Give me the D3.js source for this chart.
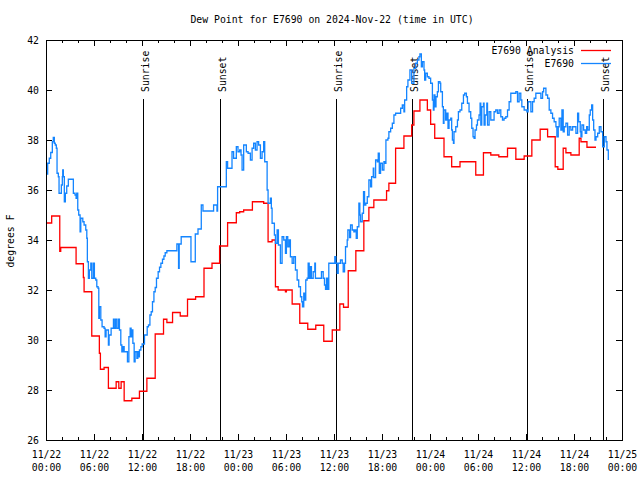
<!DOCTYPE html>
<html><head><meta charset="utf-8">
<script src="https://cdn.jsdelivr.net/npm/d3@7"></script>
<style>
body{margin:0;background:#fff}
text{font-family:"DejaVu Sans Mono",monospace;font-size:9.8px;fill:#000}
</style>
</head><body><svg id="c" width="640" height="480"></svg>
<script>
const chartTitle = "Dew Point for E7690 on 2024-Nov-22 (time in UTC)";
const yAxisTitle = "degrees F";
const seriesNames = ["E7690 Analysis", "E7690"];
const startTime = Date.UTC(2024, 10, 22, 0, 0);
const yTickValues = [26, 28, 30, 32, 34, 36, 38, 40, 42];
const xMajorStepHours = 6;
const xMinorStepHours = 2;

// analysis series (hours after start, deg F)
const analysisHours = [0.04,0.71,1.72,1.84,3.76,4.67,4.76,5.72,6.67,6.80,7.26,7.80,8.77,9.10,9.39,9.77,10.73,11.68,12.61,13.65,14.69,15.11,15.82,16.78,17.69,18.70,19.75,20.75,21.70,22.70,23.79,24.21,24.71,25.80,27.21,27.76,28.26,28.68,29.02,29.93,30.05,30.77,31.72,32.72,33.72,34.72,35.78,36.73,37.19,37.78,38.73,39.73,40.36,40.98,42.57,42.86,43.70,44.74,45.71,45.99,46.74,47.67,48.08,48.59,49.75,50.71,51.75,53.72,54.68,55.60,56.60,57.69,58.73,59.77,60.73,61.77,62.70,63.65,63.98,64.65,64.99,65.61,66.65,66.87,67.62,68.75];
const analysisValues = [34.68,34.96,33.55,33.70,33.05,32.50,31.93,30.16,29.47,28.83,28.90,28.07,28.33,28.07,28.33,27.57,27.67,27.95,28.47,30.24,30.83,30.70,31.10,30.96,31.63,31.73,32.87,33.07,33.76,34.69,35.09,35.13,35.20,35.53,35.47,33.93,34.00,32.13,32.00,31.93,32.00,31.44,30.67,30.43,30.59,29.95,30.40,31.44,31.31,32.77,33.57,34.77,35.30,35.60,35.97,36.27,37.67,38.16,38.60,39.16,39.60,39.20,38.63,38.07,37.33,36.93,37.13,36.60,37.49,37.40,37.33,37.67,37.23,37.36,38.00,38.43,38.13,36.93,36.83,37.67,37.49,37.40,38.07,37.93,37.71,37.71];

// observed series (hours after start, deg F)
const obsHours = [0.04,0.21,0.41,0.59,0.79,0.91,1.04,1.16,1.29,1.38,1.54,1.63,1.88,1.92,2.04,2.09,2.17,2.29,2.42,2.59,2.79,3.34,3.42,3.63,3.76,3.84,3.97,4.09,4.26,4.35,4.60,4.76,4.97,5.10,5.17,5.30,5.42,5.60,5.72,5.92,6.05,6.22,6.35,6.51,6.60,6.67,6.85,7.01,7.26,7.39,7.51,7.80,7.89,8.14,8.43,8.51,8.68,8.85,9.05,9.18,9.35,9.48,9.64,9.77,10.18,10.36,10.52,10.64,10.77,10.86,11.02,11.14,11.36,11.48,11.61,11.68,11.86,12.02,12.31,12.65,12.81,12.99,13.15,13.31,13.49,13.65,13.81,14.02,14.19,14.36,14.56,14.74,14.90,15.11,16.36,16.57,16.65,16.90,18.12,18.53,18.66,19.00,19.41,19.62,20.95,21.37,21.45,22.54,22.70,23.25,23.45,23.79,24.00,24.21,24.38,24.51,24.71,25.04,25.26,25.55,25.76,25.96,26.17,26.38,26.58,26.80,27.01,27.21,27.34,27.64,27.76,28.05,28.17,28.26,28.55,28.68,28.89,29.05,29.30,29.51,29.72,29.93,30.05,30.22,30.39,30.55,30.77,30.97,31.18,31.39,31.59,31.81,31.97,32.06,32.22,32.35,32.47,32.64,32.77,32.90,33.06,33.18,33.40,33.60,33.68,34.31,34.43,34.65,34.81,34.94,35.06,35.22,35.35,35.98,36.10,36.23,36.40,36.53,36.81,37.03,37.15,37.32,37.44,37.65,37.73,37.94,38.07,38.28,38.48,38.61,38.78,38.91,39.11,39.23,39.32,39.53,39.69,39.82,39.98,40.16,40.36,40.57,40.70,40.91,40.98,41.20,41.41,41.53,41.66,41.82,42.04,42.24,42.36,42.49,42.74,42.86,43.08,43.29,43.49,43.70,44.20,44.33,44.54,44.74,44.83,45.08,45.24,45.49,45.71,45.99,46.21,46.42,46.62,46.74,46.92,47.05,47.25,47.33,47.46,47.67,47.87,48.08,48.30,48.42,48.50,48.62,48.75,48.92,49.05,49.25,49.34,49.55,49.67,49.75,49.96,50.09,50.25,50.38,50.59,50.71,50.80,50.93,51.00,51.22,51.43,51.55,51.75,51.97,52.18,52.34,52.55,52.68,52.88,53.09,53.22,53.38,53.51,53.63,53.81,53.93,54.13,54.26,54.35,54.47,54.68,54.76,54.89,55.10,55.19,55.39,55.60,56.01,56.22,56.43,56.64,56.85,57.06,57.26,57.48,57.69,57.89,58.10,58.73,58.94,59.14,59.35,59.48,59.77,60.11,60.27,60.61,60.82,61.02,61.23,61.65,61.86,62.07,62.20,62.40,62.49,62.70,62.90,63.11,63.32,63.52,63.74,63.86,64.03,64.15,64.36,64.49,64.65,64.78,64.99,65.20,65.40,65.61,65.83,66.03,66.24,66.45,66.58,66.78,66.87,66.99,67.20,67.41,67.58,67.71,67.91,68.03,68.21,68.33,68.46,68.62,68.75,68.96,69.16,69.37,69.58,69.79,70.00,70.12,70.29];
const obsValues = [36.64,37.07,37.27,37.50,37.93,38.10,37.87,37.80,37.67,36.67,36.53,35.87,35.87,36.20,36.53,36.80,36.53,35.53,35.87,36.16,36.43,36.43,35.87,35.80,35.67,35.87,35.20,35.00,34.33,34.87,34.73,34.60,34.40,34.07,33.13,32.47,32.80,33.07,32.47,33.07,32.47,32.40,32.13,32.07,30.87,31.33,30.80,30.53,30.47,30.13,30.40,29.80,30.20,30.47,30.83,30.47,30.83,30.47,30.83,30.40,29.80,29.53,29.73,29.53,29.13,30.13,30.47,30.13,30.40,29.87,29.13,29.53,29.27,29.53,29.33,29.60,29.73,29.84,30.20,30.53,30.60,31.00,31.13,31.53,31.93,32.10,32.47,32.73,32.91,33.07,33.23,33.36,33.49,33.57,33.84,32.87,33.84,34.13,33.13,33.13,34.24,34.44,35.40,35.16,35.40,35.16,36.13,37.13,36.87,37.53,37.27,37.73,37.53,37.60,37.40,36.80,37.80,37.53,37.47,37.20,37.67,37.87,37.60,37.93,37.80,37.27,37.53,37.93,37.13,36.00,35.47,35.67,35.27,34.67,34.20,33.87,34.40,33.80,33.07,34.13,34.00,33.47,34.13,33.73,34.00,33.33,33.07,33.33,32.80,32.40,32.13,31.73,31.53,31.33,31.87,31.60,32.40,32.47,33.07,32.47,32.93,32.47,32.73,33.07,32.47,32.47,32.73,32.47,32.20,32.03,32.47,32.03,33.07,33.07,33.33,33.07,32.67,33.07,33.20,33.07,32.73,33.07,33.73,34.00,34.40,34.10,34.60,34.40,34.33,34.40,34.07,34.53,35.47,35.00,34.73,35.07,35.93,35.40,35.47,35.73,36.40,36.13,36.53,36.87,36.50,37.20,37.13,37.47,36.67,37.07,36.80,37.13,37.07,38.00,38.07,38.33,38.47,38.67,39.00,39.07,39.07,39.27,39.40,39.13,39.60,40.13,40.40,40.80,40.27,40.87,41.07,41.20,41.33,41.44,40.93,41.13,40.80,40.40,40.67,40.53,40.47,40.27,39.60,39.20,39.80,39.33,39.73,39.93,40.33,40.27,39.93,39.33,38.67,39.20,38.80,39.07,38.47,38.80,38.87,38.40,38.00,37.87,38.33,38.53,38.80,39.13,39.20,39.47,39.80,39.87,39.73,39.47,39.13,38.87,38.47,38.13,38.07,38.40,38.60,38.80,39.00,39.47,38.60,39.33,39.47,38.60,39.00,39.47,38.60,39.13,38.80,39.13,39.20,39.07,39.20,38.93,38.80,38.87,38.93,39.20,39.53,39.87,39.93,39.53,39.87,39.60,39.33,39.20,39.13,39.53,39.13,39.53,39.67,39.87,39.87,39.67,39.93,40.07,40.07,39.80,39.67,39.20,39.07,38.87,38.73,38.53,38.13,38.53,38.87,38.40,39.20,38.33,38.53,38.67,38.20,38.53,38.40,38.53,38.53,38.27,39.07,38.73,38.33,38.13,38.60,38.40,38.27,38.53,38.40,39.00,39.20,39.40,38.80,38.40,38.00,38.13,38.27,38.53,38.33,37.73,38.13,37.93,37.60,37.20];

const sunriseHours = [12.15, 36.2, 60.15];
const sunsetHours = [21.7, 45.7, 69.65];

const W = 640, H = 480;
const M = {left: 46, right: 622, top: 40, bottom: 440};
const RED = "#ff0000", BLUE = "#1485ff";

const HOUR = 3600e3;
const toDate = h => new Date(startTime + h * HOUR);
const x = d3.scaleUtc().domain([toDate(0), toDate(72)]).range([M.left, M.right]);
const y = d3.scaleLinear().domain([26, 42]).range([M.bottom, M.top]);

const svg = d3.select("#c");
svg.append("rect").attr("width", W).attr("height", H).attr("fill", "#fff");

const majorTicks = d3.range(0, 72 + 0.001, xMajorStepHours).map(toDate);
const minorTicks = d3.range(0, 72 + 0.001, xMinorStepHours).filter(h => h % xMajorStepHours !== 0).map(toDate);

function styleAxis(g) {
  g.select(".domain").remove();
  g.selectAll(".tick line").attr("stroke", "#000").attr("shape-rendering", "crispEdges");
  g.selectAll(".tick text").attr("font-family", null).attr("font-size", null).attr("fill", "#000");
}

// bottom axis
const gB = svg.append("g").attr("transform", `translate(0,${M.bottom})`)
  .call(d3.axisBottom(x).tickValues(majorTicks).tickSize(-6).tickSizeOuter(0).tickFormat(() => ""));
styleAxis(gB);
const fmtDay = d3.utcFormat("%m/%d"), fmtTime = d3.utcFormat("%H:%M");
gB.selectAll(".tick text").each(function(d) {
  const t = d3.select(this).attr("y", 18).attr("dy", null);
  t.append("tspan").attr("x", 0).attr("y", 18).text(fmtDay(d));
  t.append("tspan").attr("x", 0).attr("y", 31).text(fmtTime(d));
});
svg.append("g").attr("transform", `translate(0,${M.bottom})`)
  .call(d3.axisBottom(x).tickValues(minorTicks).tickSize(-3).tickSizeOuter(0).tickFormat(() => "")).call(styleAxis);
// top axis
svg.append("g").attr("transform", `translate(0,${M.top})`)
  .call(d3.axisTop(x).tickValues(majorTicks).tickSize(-6).tickSizeOuter(0).tickFormat(() => "")).call(styleAxis);
svg.append("g").attr("transform", `translate(0,${M.top})`)
  .call(d3.axisTop(x).tickValues(minorTicks).tickSize(-3).tickSizeOuter(0).tickFormat(() => "")).call(styleAxis);
// left axis
const gL = svg.append("g").attr("transform", `translate(${M.left},0)`)
  .call(d3.axisLeft(y).tickValues(yTickValues).tickSize(-6).tickSizeOuter(0).tickPadding(7).tickFormat(d3.format("d")));
styleAxis(gL);
gL.selectAll(".tick text").attr("dy", "0.35em");
// right axis
svg.append("g").attr("transform", `translate(${M.right},0)`)
  .call(d3.axisRight(y).tickValues(yTickValues).tickSize(-6).tickSizeOuter(0).tickFormat(() => "")).call(styleAxis);

// sunrise / sunset lines
const sunEvents = sunriseHours.map(h => ({h, label: "Sunrise"}))
  .concat(sunsetHours.map(h => ({h, label: "Sunset"})));
const sunG = svg.append("g");
sunEvents.forEach(e => {
  const sx = Math.round(x(toDate(e.h))) + 0.5;
  sunG.append("line").attr("x1", sx).attr("x2", sx).attr("y1", 99).attr("y2", M.bottom)
    .attr("stroke", "#000").attr("stroke-width", 1).attr("shape-rendering", "crispEdges");
  sunG.append("text").attr("transform", `translate(${sx + 5},92) rotate(-90)`)
    .attr("text-anchor", "start").text(e.label);
});

// series
const line = d3.line().x(d => x(toDate(d[0]))).y(d => y(d[1])).curve(d3.curveStepAfter);
const analysisData = analysisHours.map((h, i) => [h, analysisValues[i]]);
const obsData = obsHours.map((h, i) => [h, obsValues[i]]);
svg.append("path").datum(analysisData).attr("d", line)
  .attr("fill", "none").attr("stroke", RED).attr("stroke-width", 1.3);
svg.append("path").datum(obsData).attr("d", line)
  .attr("fill", "none").attr("stroke", BLUE).attr("stroke-width", 1.3);

// frame
svg.append("rect").attr("x", M.left + 0.5).attr("y", M.top + 0.5)
  .attr("width", M.right - M.left).attr("height", M.bottom - M.top)
  .attr("fill", "none").attr("stroke", "#000").attr("shape-rendering", "crispEdges");

// legend
const legend = svg.append("g");
[RED, BLUE].forEach((c, i) => {
  const ly = 50 + i * 13;
  legend.append("text").attr("x", 574).attr("y", ly + 3.5).attr("text-anchor", "end").text(seriesNames[i]);
  legend.append("line").attr("x1", 581).attr("x2", 611).attr("y1", ly + 0.5).attr("y2", ly + 0.5)
    .attr("stroke", c).attr("stroke-width", 1.3);
});

// titles
svg.append("text").attr("x", 332).attr("y", 23).attr("text-anchor", "middle").text(chartTitle);
svg.append("text").attr("transform", "translate(14,241) rotate(-90)").attr("text-anchor", "middle").text(yAxisTitle);
</script>
</body></html>
